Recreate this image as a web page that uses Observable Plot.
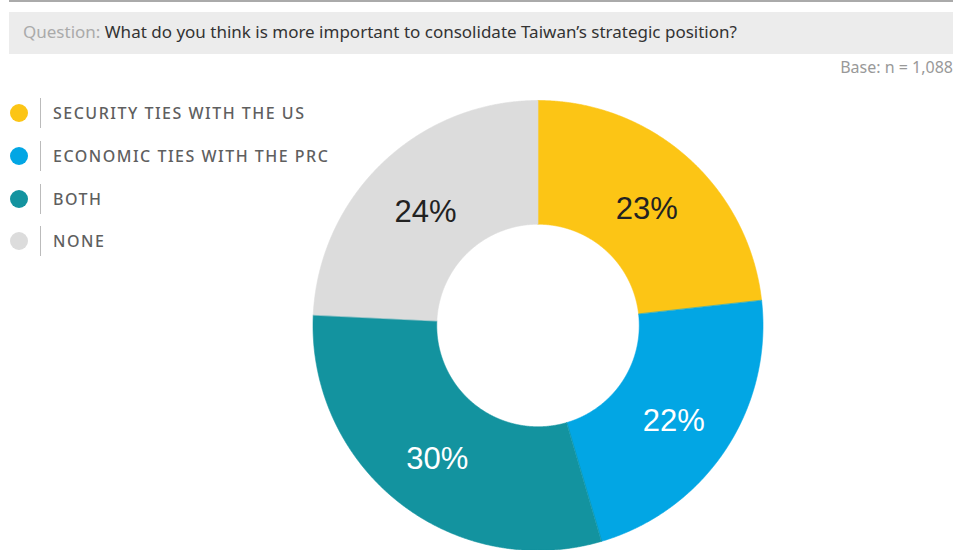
<!DOCTYPE html>
<html><head><meta charset="utf-8">
<script src="https://cdn.jsdelivr.net/npm/d3@7"></script>
<script src="https://cdn.jsdelivr.net/npm/@observablehq/plot@0.6"></script>
<style>
body{margin:0;background:#fff;font-family:"Noto Sans",Lato,sans-serif;width:957px;height:550px;overflow:hidden;position:relative}
#topline{position:absolute;left:9px;top:0;width:944px;height:2px;background:#aaa}
#question{position:absolute;left:9px;top:12px;width:944px;height:42px;background:#ececec;box-sizing:border-box;padding-left:14px;line-height:40px;font-size:17px;color:#333}
#question span{color:#aaa}
#base{position:absolute;right:4px;top:56px;font-size:16px;color:#999}
#chart{position:absolute;left:0;top:80px}
#legend{position:absolute;left:0;top:92px}
.item{height:42.7px;display:flex;align-items:center}
.dot{width:18px;height:18px;border-radius:50%;margin-left:10px}
.sep{width:1px;height:30px;background:#bbb;margin-left:12px}
.lab{margin-left:12px;font-size:16px;font-weight:500;color:#5f5f5f;letter-spacing:1.5px}
</style></head>
<body>
<div id="topline"></div>
<div id="question"><span>Question:</span> What do you think is more important to consolidate Taiwan’s strategic position?</div>
<div id="base">Base: n = 1,088</div>
<div id="chart"></div>
<div id="legend"></div>
<script>
const categories = ["SECURITY TIES WITH THE US", "ECONOMIC TIES WITH THE PRC", "BOTH", "NONE"];
const values = [23, 22, 30, 24];
const labels = ["23%", "22%", "30%", "24%"];

// styles
const colors = ["#fcc515", "#02a6e4", "#13939f", "#dcdcdc"];
const darkLabel = [true, false, false, true];
const innerRatio = 0.45;

const arcs = d3.pie().sort(null).startAngle(0).endAngle(2 * Math.PI)(values);
const pts = [];
const labelData = [];
arcs.forEach((a, i) => {
  const cat = categories[i];
  const n = Math.max(2, Math.ceil((a.endAngle - a.startAngle) / (Math.PI / 720)));
  for (let k = 0; k <= n; k++) {
    const t = a.startAngle + (a.endAngle - a.startAngle) * k / n;
    pts.push({cat, x: Math.sin(t), y: Math.cos(t)});
  }
  for (let k = n; k >= 0; k--) {
    const t = a.startAngle + (a.endAngle - a.startAngle) * k / n;
    pts.push({cat, x: innerRatio * Math.sin(t), y: innerRatio * Math.cos(t)});
  }
  const m = (a.startAngle + a.endAngle) / 2, r = (1 + innerRatio) / 2;
  labelData.push({cat, text: labels[i], dark: darkLabel[i], x: r * Math.sin(m), y: r * Math.cos(m)});
});

const W = 957, H = 470, R = 225, cx = 537.5, cy = 245;
const chart = Plot.plot({
  width: W, height: H,
  margin: 0,
  x: {domain: [-cx / R, (W - cx) / R], axis: null},
  y: {domain: [-(H - cy) / R, cy / R], axis: null},
  color: {domain: categories, range: colors},
  style: {background: "#fff", overflow: "visible"},
  marks: [
    Plot.line(pts, {x: "x", y: "y", z: "cat", fill: "cat", stroke: "cat", strokeWidth: 0.6, curve: "linear-closed"}),
    Plot.text(labelData.filter(d => d.dark), {x: "x", y: "y", dy: 5, text: "text", fill: "#222", fontSize: 31, fontFamily: "Liberation Sans, Arial, sans-serif"}),
    Plot.text(labelData.filter(d => !d.dark), {x: "x", y: "y", dy: 5, text: "text", fill: "#fff", fontSize: 31, fontFamily: "Liberation Sans, Arial, sans-serif"})
  ]
});
document.getElementById("chart").appendChild(chart);

const legend = document.getElementById("legend");
categories.forEach((c, i) => {
  const item = document.createElement("div");
  item.className = "item";
  item.innerHTML = `<div class="dot" style="background:${colors[i]}"></div><div class="sep"></div><div class="lab">${c}</div>`;
  legend.appendChild(item);
});
</script>
</body></html>
